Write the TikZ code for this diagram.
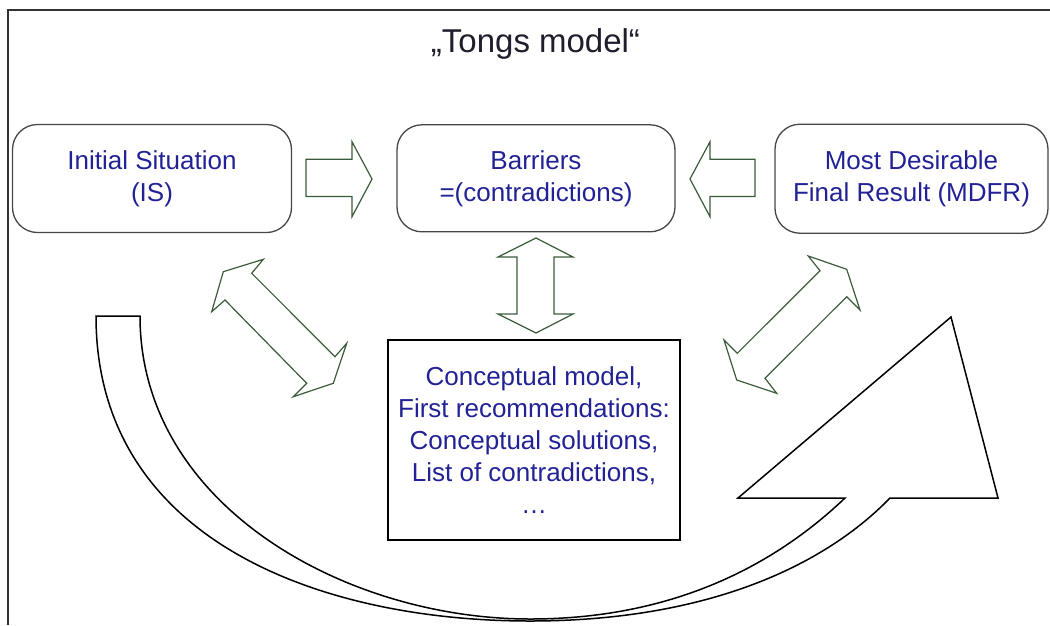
\documentclass[tikz,border=0pt]{standalone}
\usepackage{fontspec}
\setmainfont{Liberation Sans}
\definecolor{txtblue}{RGB}{34,34,150}
\definecolor{titlecol}{RGB}{30,30,45}
\definecolor{boxgray}{RGB}{70,70,70}
\definecolor{arrgreen}{RGB}{58,92,58}
\begin{document}
\begin{tikzpicture}[x=1pt,y=-1pt,
  txt/.style={text=txtblue, font=\fontsize{26}{32}\selectfont, align=center},
  rbox/.style={draw=boxgray, line width=1.3pt, rounded corners=25pt, txt, inner sep=0pt},
  sbox/.style={draw=black, line width=1.6pt, txt, inner sep=0pt},
  garrow/.style={draw=arrgreen, line width=1.2pt, line join=miter},
  bigarrow/.style={draw=black, line width=1.5pt, line join=miter},
  frameline/.style={draw=black!80, line width=1.6pt}]
\useasboundingbox (0,0) rectangle (1050,625);
% frame
\draw[frameline] (8,625) -- (8,10) -- (1050,10);
% title
\node[text=titlecol, font=\fontsize{33}{38}\selectfont, anchor=base] (title) at (535.5,52) {„Tongs model“};
% boxes
\node[rbox, minimum width=279pt, minimum height=108pt] (is) at (152,178.5) {Initial Situation\\(IS)};
\node[rbox, minimum width=278pt, minimum height=107pt] (bar) at (536,178.3) {Barriers\\=(contradictions)};
\node[rbox, minimum width=273pt, minimum height=109pt] (mdfr) at (911.5,178.7) {Most Desirable\\Final Result (MDFR)};
\node[sbox, minimum width=292pt, minimum height=200pt] (cm) at (534,440) {Conceptual model,\\First recommendations:\\Conceptual solutions,\\List of contradictions,\\…};
% horizontal block arrows
\draw[garrow] (306,159.3) -- (352,159.3) -- (352,141.7) -- (372,179) -- (352,216.7) -- (352,196.5) -- (306,196.5) -- cycle;
\draw[garrow] (755,159.3) -- (710,159.3) -- (710,141.7) -- (690,179) -- (710,216.7) -- (710,196.5) -- (755,196.5) -- cycle;
% vertical double arrow
\draw[garrow] (536,238) -- (573,257) -- (554,257) -- (554,314) -- (573,314) -- (536,333) -- (498,314) -- (517,314) -- (517,257) -- (498,257) -- cycle;
% left diagonal double arrow
\draw[garrow] (263.3,259.3) -- (223.3,271.7) -- (211.7,311.7) -- (225,300) -- (306.7,383.3) -- (293.3,396.7) -- (333.3,383.3) -- (346.7,343.3) -- (335,356.7) -- (251.7,273.3) -- cycle;
% right diagonal double arrow
\draw[garrow] (808.3,256) -- (846.7,269.3) -- (860,310) -- (846.7,296.7) -- (765,378.3) -- (776.7,393.3) -- (736.7,380) -- (724,340) -- (737.3,353.3) -- (820,270.7) -- cycle;
% big curved arrow
\draw[bigarrow] (96,316) -- (140,316)
  .. controls (140,505) and (345,619) .. (530,619)
  .. controls (680,619) and (780,560) .. (845,498)
  -- (738,498) -- (951,317) -- (998,498) -- (890,498)
  .. controls (820,570) and (700,621) .. (530,621)
  .. controls (320,621) and (96,540) .. cycle;
\end{tikzpicture}
\end{document}
